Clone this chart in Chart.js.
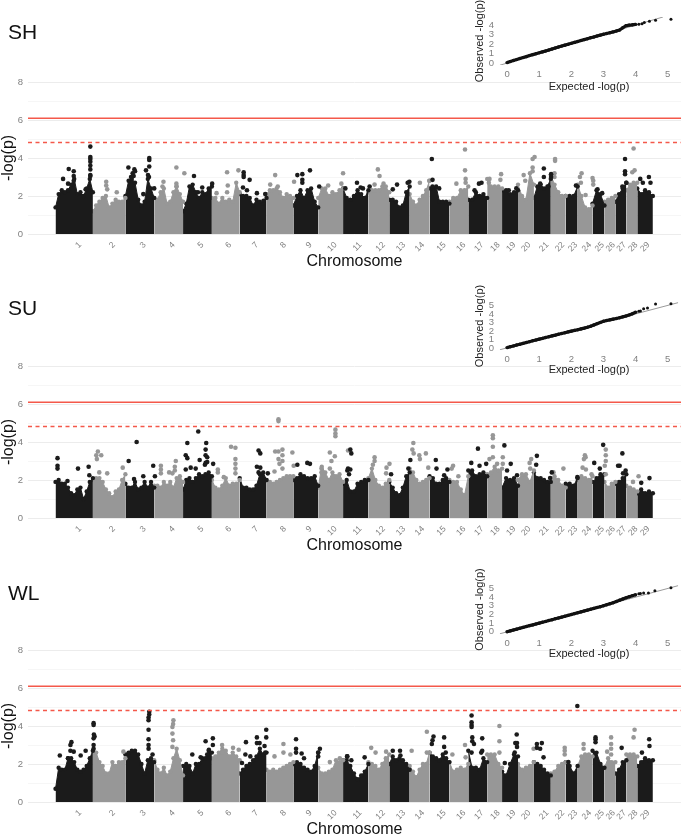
<!DOCTYPE html>
<html>
<head>
<meta charset="utf-8">
<title>Manhattan plots</title>
<script src="https://cdn.jsdelivr.net/npm/chart.js@4/dist/chart.umd.min.js"></script>
<style>
  body { margin: 0; background: #fff; width: 685px; height: 835px; overflow: hidden; position: relative; font-family: "Liberation Sans", Arial, sans-serif; }
  canvas { position: absolute; filter: blur(0.5px); }
  .tag { position: absolute; left: 8px; font-size: 21px; line-height: 24px; color: #111; filter: blur(0.3px); }
</style>
</head>
<body>
<div class="tag" style="top:20px">SH</div>
<div class="tag" style="top:296px">SU</div>
<div class="tag" style="top:581px">WL</div>
<canvas id="shMain"></canvas>
<canvas id="suMain"></canvas>
<canvas id="wlMain"></canvas>
<canvas id="shQQ"></canvas>
<canvas id="suQQ"></canvas>
<canvas id="wlQQ"></canvas>
<script>
// chromosome names, lengths and where each label sits on the genome axis
const chromNames = ['1','2','3','4','5','6','7','8','9','10','11','12','13','14','15','16','17','18','19','20','21','22','23','24','25','26','27','28','29'];
const chromLengths = [37.6,32.7,29,29,29,28,27,27,25,25,25.5,21,20.5,20,20,19,19,15,16,16,17,15,12,15,12,11,11,11,15.7];
const chromTicks = [22.3,56.3,87.3,116.3,145.3,173.3,200.3,228.3,254.3,279.3,304.3,327.8,348.3,367.3,389,409,427,443.3,459.3,474.3,492.3,508.3,521.3,535.3,548.3,559.3,570.3,582,594];
const yTicks = [0,1,2,3,4,5,6,7,8];
const qqTickValues = [0,1,2,3,4,5];

const solidThreshold = 6.09;
const dashedThreshold = 4.81;

// top of the solid mass of points along each chromosome
const shTops = [
  [1.4,2.1,2.3,2.2,2.3,2.6,2.9,2.1,2.2,2.0,2.4,2.9,2.2],
  [1.2,1.5,1.7,1.9,2.0,1.4,1.6,1.8,1.7,1.7,1.9],
  [2.0,2.8,2.9,2.7,1.8,1.5,1.7,2.9,2.4,1.9],
  [1.9,1.8,2.2,2.4,1.6,1.7,2.2,2.5,2.1,1.7],
  [1.2,1.6,2.5,2.6,2.2,1.9,2.2,2.1,2.4,2.5],
  [1.9,1.9,1.6,1.9,1.7,1.8,1.7,2.7,2.2],
  [2.1,2.0,2.0,1.9,1.5,1.8,1.7,1.6,1.9],
  [2.1,2.3,2.3,2.4,2.2,1.9,2.1,2.0,1.9],
  [1.5,2.0,2.3,1.9,2.3,2.4,1.7,1.4],
  [1.9,2.4,2.4,2.0,2.2,2.1,2.3,2.4],
  [2.4,1.9,1.8,2.0,2.3,2.1,1.9,2.3],
  [2.2,2.3,2.3,2.3,2.5,2.5,2.2],
  [1.8,1.8,1.7,1.4,1.5,2.2,2.5],
  [2.1,1.7,1.5,1.8,2.0,2.3,2.8],
  [2.4,2.4,2.5,1.7,1.7,1.7,1.6],
  [1.7,1.9,1.9,2.3,2.3,2.5],
  [1.8,1.8,2.2,2.0,2.1,1.9],
  [2.9,2.5,2.5,2.5,2.4],
  [2.3,2.3,2.1,2.2,2.3],
  [2.6,2.0,1.8,3.2,2.6],
  [1.9,2.5,2.6,2.4,2.5,2.9],
  [3.1,2.6,2.2,2.0,2.0],
  [2.0,2.0,2.0,2.5],
  [2.6,2.0,1.4,1.3,1.5],
  [1.6,2.3,2.1,1.5],
  [1.7,1.8,1.9,2.0],
  [1.7,2.1,2.4,2.7],
  [2.3,2.6,2.7,2.7],
  [2.4,2.1,2.3,2.2,2.0]
];
const suTops = [
  [1.9,2.0,1.8,1.8,1.6,1.3,1.2,1.5,1.6,1.0,1.4,1.9,2.1],
  [2.0,2.1,2.1,1.9,1.5,1.3,1.1,1.4,1.5,2.0,2.3],
  [1.8,1.6,1.6,1.9,1.5,1.6,1.9,1.6,1.9,1.6],
  [1.7,1.7,1.6,1.9,1.7,1.9,1.6,2.1,2.2,1.9],
  [1.5,2.0,2.1,1.9,2.1,2.3,2.2,2.3,2.4,2.2],
  [2.0,1.6,1.5,1.7,2.1,1.7,1.8,1.8,2.0],
  [2.1,1.6,1.6,1.5,1.5,1.7,2.3,2.4,2.0],
  [2.0,1.9,1.8,1.9,2.0,2.1,2.2,2.2,2.2],
  [2.0,2.1,2.3,2.2,2.1,2.1,2.2,1.7],
  [1.6,2.7,2.4,2.0,2.4,2.2,2.3,1.9],
  [1.8,2.0,1.4,1.4,1.8,1.9,2.0,2.0],
  [2.1,2.6,2.0,1.7,1.6,1.8,2.0],
  [1.9,1.6,1.3,1.2,1.6,2.2,2.4],
  [2.6,2.4,2.0,1.8,1.9,2.0,2.1],
  [2.2,2.1,1.8,1.8,2.0,2.1,1.9],
  [2.0,1.9,1.9,1.5,1.2,2.2],
  [2.5,2.5,2.2,2.3,2.4,2.2],
  [2.3,2.4,2.7,2.5,2.6],
  [1.6,2.1,2.0,2.1,1.7],
  [2.0,2.3,2.3,1.9,2.5],
  [2.4,2.1,2.1,2.0,1.9,1.9],
  [2.1,2.2,2.0,1.7,1.6],
  [1.8,1.8,1.7,2.1],
  [2.0,2.2,2.1,2.0,2.2],
  [1.9,2.1,2.3,2.3],
  [1.9,1.6,1.8,1.9],
  [1.8,1.9,2.1,2.3],
  [1.7,1.6,1.5,1.4],
  [1.3,1.5,1.3,1.4,1.3]
];
const wlTops = [
  [0.7,1.8,1.7,1.7,2.3,2.3,2.1,1.7,1.6,1.7,1.9,2.3,2.7],
  [2.7,2.6,2.1,1.9,1.5,1.5,2.1,1.9,2.1,2.1,2.3],
  [2.5,2.6,2.7,2.7,2.5,2.0,1.5,2.2,2.3,2.1],
  [2.2,1.7,1.5,1.8,1.4,1.6,2.3,2.8,2.2,1.4],
  [1.9,2.0,1.9,1.5,2.0,2.0,2.3,2.3,2.7,2.6],
  [2.3,2.4,2.6,2.8,2.7,2.4,2.6,2.4,2.2],
  [1.5,1.7,1.9,2.0,2.2,2.4,2.8,2.5,2.6],
  [1.7,1.6,1.7,1.6,1.7,1.8,1.9,2.0,2.1],
  [2.0,2.1,2.0,1.8,1.7,1.6,1.9,2.6],
  [1.8,1.5,1.5,1.6,1.7,2.2,2.1,2.2],
  [2.2,2.2,1.9,1.5,1.2,1.4,1.6,2.0],
  [2.1,2.0,1.9,1.7,2.0,2.3,2.5],
  [2.0,2.4,2.2,2.3,2.2,2.0,1.7],
  [1.9,1.6,1.3,1.7,2.0,2.0,2.6],
  [2.6,2.4,2.3,2.2,2.5,2.3,2.1],
  [2.1,1.6,1.7,1.8,1.7,2.0],
  [2.7,1.8,1.8,1.7,2.3,2.1],
  [2.5,2.5,2.5,2.0,1.8],
  [1.6,1.4,2.0,2.5,2.4],
  [2.0,1.7,1.8,1.9,2.1],
  [2.1,2.0,1.9,1.7,1.5,1.4],
  [1.5,1.6,1.9,2.0,2.1],
  [2.1,1.9,1.5,1.9],
  [1.9,2.4,2.5,2.5,2.4],
  [2.7,2.6,2.0,1.8],
  [1.8,2.3,2.1,2.1],
  [1.5,1.7,2.1,2.2],
  [2.5,2.5,2.5,2.4],
  [1.9,2.1,2.3,2.2,2.2]
];

// single SNPs standing above the mass, as [genome position, -log(p)]
const shBlackPeaks = [[35,4.6],[35,4.05],[35,3.95],[35,3.8],[35,3.6],[35,3.4],[35,3.1],[35,3.05],[13.3,3.42],[18.3,3.3],[18.3,3.05],[18.3,2.8],[7.6,2.9],[12.6,2.65],[30.3,2.35],
  [73.3,3.5],[79.3,3.4],[77.6,3.2],[80,3.3],[76,3],[78.6,3.05],[94.3,4],[94.3,3.9],[94.3,3.55],[91,3.35],[93,3.1],[94,3],[88.3,2.1],[99.3,2.4],
  [139.3,3.05],[147.6,2.45],[143.3,2.2],[157.6,2.65],[189.3,3.25],[189.3,3.1],[189.3,3],[195.3,2.85],[188.6,2.45],[192.6,2.3],[202.6,2.15],[211,2.1],[209.3,1.75],
  [243.3,3.1],[248.3,3.15],[256,3.35],[248.3,2.85],[248.3,2.7],[265.3,2.5],[303.3,2.7],[307,2.45],[309.3,2.4],[316,2.5],[291.6,2.4],
  [339.3,2.35],[343.6,2.6],[356,2.75],[354.3,2.7],[378.6,3.95],[379.3,2.85],[379.3,2.5],[386,2.4],[421.6,2.3],[426,2.65],[428.6,2.7],
  [463.6,2.4],[456,2.3],[491.3,3.45],[491.3,3],[498.6,3.15],[498.6,3],[487.6,2.65],[496,2.5],[523.6,2.55],[545.3,2.35],[550,2.15],
  [573,3.95],[573,3.3],[573,3.15],[574.3,2.7],[570.3,2.5],[588.3,2.9],[597,3],[598.6,2.7],[590.9,2.7]];
const shGreyPeaks = [[51,2.75],[51,2.55],[52,2.35],[61.6,2.2],[121.6,3.5],[129.6,3.2],[108.6,2.75],[107.6,2.5],[121.6,2.65],[121.6,2.5],
  [172.6,3.25],[184,3.35],[173.3,2.55],[172.6,2.2],[162,2.15],[221,3.1],[216,2.6],[223.6,2.5],[240,2.75],[289.3,3.2],[287.6,2.65],[274.3,2.55],
  [324.3,3.4],[326,3.05],[321,2.6],[330,2.65],[366.6,2.7],[376,2.8],[412,4.45],[412,3.35],[412.6,2.9],[412.6,2.7],[403.3,2.65],
  [448.3,3.15],[447.6,2.85],[436.6,2.9],[436,2.7],[482,4.05],[480,3.95],[480,3.5],[480,3.3],[471,3.1],[472.6,2.8],
  [502.6,3.95],[502.6,3.85],[502,3.2],[502,3],[529.3,3.2],[527.6,3],[528.6,2.7],[533.3,2.05],[540.3,2.95],[541,2.8],[541,2.6],
  [581.6,4.5],[582.6,3.35],[580.3,3.25]];

const suBlackPeaks = [[2,3.15],[2,2.75],[2,2.6],[22.6,2.6],[12,1.95],[33.3,2.7],[34,2.25],[73.6,3],[81.6,4],[98.3,2.75],[100,2.2],[88.3,2.2],[79,2.05],
  [132.6,3.95],[131,3.3],[132.6,3.15],[136,2.65],[141,2.6],[131,2.55],[143.6,4.55],[151.6,3.95],[151,3.6],[151,3.3],[152.6,3.2],[145,3.05],[151,2.9],[152.6,2.95],[150.3,2.8],[158.6,2.85],
  [204.3,3.55],[206,3.4],[202.6,2.7],[206,2.65],[204.3,2.4],[213.6,2.35],[243.3,2.8],[253.3,2.9],[256,2.85],
  [296.6,3.6],[297.6,3.4],[294.3,2.6],[296.6,2.55],[293.6,2.5],[295.3,2.3],[337.6,2.3],[357,3.05],[355,2.6],
  [382.6,3.05],[383.3,2.6],[394.3,2.55],[391,2.25],[425,3.65],[418.3,2.9],[433.3,2.85],[426.6,2.75],[418.3,2.4],
  [451.6,3.82],[458,2.85],[454.3,2.5],[464.3,2.25],[484.3,3.27],[483.6,2.8],[499.3,2.4],[497.6,2.1],[525,2.15],
  [542,2.9],[547.6,2.6],[551,3.85],[570.3,3.4],[567.6,2.75],[566,2.75],[573.6,2.5],[571,2.35],[597.6,2.1],[589.3,1.85]];
const suGreyPeaks = [[42.6,3.5],[46,3.3],[41,3.3],[41.6,3.1],[44,2.4],[52,2.35],[67.6,2.65],[106,2.75],[106,2.55],[106,2.35],[121,3],[120,2.7],[120,2.5],[114.3,2.4],[117.6,2.35],
  [176.6,3.75],[181,3.7],[181,3.1],[181,2.85],[181,2.6],[181,2.35],[163.3,2.55],[163.3,2.4],[169.3,2.15],
  [224.3,5.2],[224.3,5.1],[221,3.5],[228.3,3.6],[224.3,3.5],[228.3,3.3],[224.3,3.1],[228.3,3],[225.3,2.85],[228.3,2.6],[220.3,2.45],[238.3,3.45],[239.6,2.75],
  [281.6,4.65],[281.6,4.45],[281.6,4.3],[276,3.45],[281,3.25],[277.6,3],[267.6,2.6],[267.6,2.4],[276,2.6],[294.3,3.55],
  [321,3.2],[321,3],[319.3,2.8],[336,2.85],[333,2.65],[332.6,2.35],[360,3.95],[359,3.6],[360.3,3.4],[366,3.3],[372.6,3.4],[366.6,3.1],[375,2.65],
  [400,2.75],[398.6,2.6],[405.3,2.2],[440,4.35],[440,4.2],[440,3.75],[450,3.2],[440,3.2],[436.6,3.1],[444.3,2.85],[450,2.85],
  [478.6,3.1],[477,2.9],[477.6,2.6],[511,2.6],[501,2.4],[532.6,3.3],[531.6,3.1],[533.3,3.2],[530.3,2.65],[533.6,2.55],[539.3,2.3],
  [553.6,3.6],[553.6,3.3],[553.6,3],[552.6,2.75],[553.6,2.3],[586.6,2.2],[581,1.9]];

const wlBlackPeaks = [[38.3,4.15],[38.3,4.05],[38.6,3.55],[39.3,3.45],[38.3,3.35],[38.3,3],[38.3,2.8],[16,3.15],[15,3],[15,2.7],[18.3,2.65],[30.3,2.7],[25.3,2.45],[4.3,2.45],[12.6,2.3],
  [94.3,4.75],[94.3,4.6],[93.6,4.45],[93.6,4.3],[93.6,3.8],[93.6,3.3],[93.6,3],[93.6,2.8],[97.6,2.5],
  [158.3,3.35],[151,3.2],[158.3,3],[154.3,2.75],[152.6,2.5],[146,2.35],[137.6,2.5],
  [191.6,3.15],[191,2.5],[212,3.8],[212,3.4],[202.6,3.4],[202.6,3.1],[205.3,3.1],[210.3,2.95],[211,2.6],[196,2.4],[187.6,2.05],
  [242,3.3],[242,2.8],[242,2.6],[247.6,2.55],[250,2.3],[266,2.8],[264.3,2.6],[264.3,2.4],[293.3,2.4],[293.6,2.4],[297.6,2.2],[311,2.35],
  [339.3,2.7],[346.6,2.7],[347,2.45],[380.3,3.45],[379.3,3.25],[378.6,3.05],[391,3.4],[391,2.9],[392.6,2.6],
  [418.6,4.55],[418.6,4.2],[418.6,4.05],[418.6,3.95],[419.3,3.4],[419.3,3.2],[421,3.05],[418.6,2.6],[429.3,3.35],[429.3,2.7],[428.3,2.6],
  [464,3.55],[462.6,3.1],[464.3,3.1],[464.3,2.9],[452,2.05],[462,2.6],[484.3,3.05],[489.3,3.1],[484.3,2.85],[487.6,2.8],[491,2.35],
  [525,5.05],[516,2.1],[543.3,3.4],[543.3,3.3],[543.3,3.15],[569.6,2.85],[597.3,3.3],[597.6,2.95],[590,2.6]];
const wlGreyPeaks = [[118.6,4.3],[118.3,4.1],[117.6,3.95],[117.6,3.6],[118.3,3.25],[117.6,2.9],[68.3,2.65],[167.6,3],[178.6,2.85],[184.3,2.75],[167.6,2.6],
  [229.3,3.05],[220.3,2.4],[229.3,2.6],[236.3,2.5],[276,2.1],[286,2.3],[317.6,2.85],[322,2.6],[332.6,2.65],[358.3,2.7],[373.6,3.7],[373.6,2.6],
  [412,3],[412.6,2.35],[399.3,2.5],[446.6,4],[446.6,3.2],[446.6,2.6],[481,2.8],[512.3,2.85],[512.3,2.7],[512.3,2.5],[531.3,3.05],[531.3,2.8],
  [559,3.4],[559,3.05],[559,2.8],[559,2.5],[555,2.65],[582.6,3.8],[581.6,3.4]];

// QQ insets
const qqExpected = [0,0.1,0.2,0.3,0.4,0.5,0.6,0.7,0.8,0.9,1,1.1,1.2,1.3,1.4,1.5,1.6,1.7,1.8,1.9,2,2.1,2.2,2.3,2.4,2.5,2.6,2.7,2.8,2.9,3,3.1,3.2,3.3,3.4,3.5,3.6,3.7,3.8,3.9,4];
const shObserved = [0.05,0.16,0.27,0.37,0.48,0.58,0.68,0.79,0.89,0.99,1.08,1.18,1.28,1.38,1.49,1.59,1.69,1.79,1.89,1.98,2.08,2.18,2.28,2.37,2.47,2.56,2.66,2.75,2.85,2.94,3.03,3.12,3.2,3.28,3.37,3.47,3.72,3.93,4,4.03,4.07];
const suObserved = [0.03,0.13,0.23,0.33,0.43,0.53,0.63,0.73,0.83,0.93,1.03,1.12,1.22,1.31,1.41,1.5,1.6,1.69,1.78,1.88,1.97,2.06,2.14,2.23,2.32,2.42,2.55,2.7,2.85,3,3.13,3.22,3.3,3.38,3.46,3.55,3.65,3.75,3.88,4.02,4.2];
const wlObserved = [0.01,0.11,0.21,0.31,0.41,0.51,0.61,0.71,0.8,0.9,1,1.1,1.2,1.3,1.4,1.5,1.6,1.7,1.8,1.9,2,2.1,2.2,2.3,2.4,2.5,2.6,2.7,2.8,2.9,3,3.12,3.24,3.36,3.5,3.65,3.78,3.92,4.05,4.17,4.27];
const shTail = [[4.1,4.1],[4.2,4.15],[4.27,4.28],[4.43,4.41],[4.62,4.5],[5.1,4.62]];
const suTail = [[4.1,4.3],[4.15,4.35],[4.25,4.6],[4.37,4.68],[4.62,5.15],[5.1,5.2]];
const wlTail = [[4.1,4.38],[4.15,4.42],[4.25,4.47],[4.4,4.47],[4.6,4.73],[5.1,5.08]];

const BLACK = '#1b1b1b';
const GREY = '#979797';
const RED = '#f4584a';

// cumulative start of each chromosome
const chromStarts = [];
chromLengths.reduce((sum, len, i) => { chromStarts[i] = sum; return sum + len; }, 0);

function manhattan(id, top, tops, blackPeaks, greyPeaks) {
  const canvas = document.getElementById(id);
  canvas.width = 685; canvas.height = 197;
  canvas.style.left = '0px'; canvas.style.top = top + 'px';

  const massSets = tops.map((heights, c) => ({
    data: heights.map((y, i) => ({ x: chromStarts[c] + chromLengths[c] * i / (heights.length - 1), y: y })),
    showLine: true, fill: 'origin', tension: 0,
    backgroundColor: c % 2 ? GREY : BLACK, borderColor: c % 2 ? GREY : BLACK, borderWidth: 1,
    pointRadius: 2.2, pointBackgroundColor: c % 2 ? GREY : BLACK, pointBorderWidth: 0, clip: false
  }));
  const peakSet = (list, color) => ({
    data: list.map(p => ({ x: p[0], y: p[1] })), showLine: false,
    pointRadius: 2.3, pointBackgroundColor: color, pointBorderWidth: 0, clip: false
  });
  const lineSet = (value, dash, width) => ({
    data: [{ x: -27.7, y: value }, { x: 629.3, y: value }], showLine: true,
    borderColor: RED, borderWidth: width, borderDash: dash, pointRadius: 0
  });

  return new Chart(canvas, {
    type: 'scatter',
    data: { datasets: [lineSet(solidThreshold, [], 1.6), lineSet(dashedThreshold, [4, 3.5], 1.5), peakSet(blackPeaks, BLACK), peakSet(greyPeaks, GREY)].concat(massSets) },
    options: {
      responsive: false, animation: false, events: [],
      layout: { padding: { top: 12, left: 0, right: 0, bottom: 0 } },
      plugins: { legend: { display: false }, tooltip: { enabled: false } },
      scales: {
        x: {
          type: 'linear', min: -27.7, max: 629.3,
          afterBuildTicks: axis => { axis.ticks = chromTicks.map(v => ({ value: v })); },
          afterFit: axis => { axis.height = 33; },
          grid: { display: false, drawTicks: false }, border: { display: false },
          ticks: { autoSkip: false, minRotation: 45, maxRotation: 45, padding: 6, labelOffset: 2.5, color: '#808080',
            font: { family: 'Liberation Sans', size: 8.5 }, callback: (v, i) => chromNames[i] },
          title: { display: true, text: 'Chromosome', color: '#111', padding: 0,
            font: { family: 'Liberation Sans', size: 16, lineHeight: 0.7 } }
        },
        y: {
          min: 0, max: 8,
          afterBuildTicks: axis => { axis.ticks = yTicks.map(v => ({ value: v })); },
          afterFit: axis => { axis.width = 28; },
          grid: { drawTicks: false, lineWidth: 1, color: c => (c.tick && c.tick.value % 2 ? '#f6f6f6' : '#ececec') },
          border: { display: false },
          ticks: { autoSkip: false, padding: 5, color: '#808080', font: { family: 'Liberation Sans', size: 9.5 },
            callback: v => (v % 2 === 0 ? v : '') },
          title: { display: true, text: '-log(p)', color: '#111', padding: 0,
            font: { family: 'Liberation Sans', size: 16, lineHeight: 1.1 } }
        }
      }
    }
  });
}

function qqPlot(id, top, observed, tail, yRange, lineEnd, areaTop, areaBottom, titlePad) {
  const canvas = document.getElementById(id);
  canvas.width = 220; canvas.height = 100;
  canvas.style.left = '465px'; canvas.style.top = top + 'px';

  return new Chart(canvas, {
    type: 'scatter',
    data: { datasets: [
      { data: tail.map(p => ({ x: p[0], y: p[1] })), pointRadius: 1.5, pointBackgroundColor: '#111', pointBorderWidth: 0, clip: false },
      { data: qqExpected.map((x, i) => ({ x: x, y: observed[i] })), showLine: true, borderColor: '#111', borderWidth: 3.2, tension: 0,
        pointRadius: 1.7, pointBackgroundColor: '#111', pointBorderWidth: 0, clip: false },
      { data: [{ x: -0.22, y: -0.22 }, { x: lineEnd, y: lineEnd }], showLine: true, borderColor: '#9a9a9a', borderWidth: 1, pointRadius: 0 }
    ] },
    options: {
      responsive: false, animation: false, events: [],
      layout: { padding: { top: areaTop, right: 6, left: 0, bottom: 0 } },
      plugins: { legend: { display: false }, tooltip: { enabled: false } },
      scales: {
        x: {
          type: 'linear', min: -0.25, max: 5.35,
          afterBuildTicks: axis => { axis.ticks = qqTickValues.map(v => ({ value: v })); },
          afterFit: axis => { axis.height = 100 - areaBottom; },
          grid: { display: false, drawTicks: false }, border: { display: false },
          ticks: { autoSkip: false, maxRotation: 0, padding: 4, color: '#808080', font: { family: 'Liberation Sans', size: 9.5 } },
          title: { display: true, text: 'Expected -log(p)', color: '#222', padding: { top: 0, bottom: titlePad },
            font: { family: 'Liberation Sans', size: 11, lineHeight: 1 } }
        },
        y: {
          min: yRange[0], max: yRange[1],
          afterBuildTicks: axis => { axis.ticks = qqTickValues.filter(v => v <= yRange[1]).map(v => ({ value: v })); },
          afterFit: axis => { axis.width = 34; },
          grid: { display: false, drawTicks: false }, border: { display: false },
          ticks: { autoSkip: false, padding: 5, color: '#808080', font: { family: 'Liberation Sans', size: 9.5 } },
          title: { display: true, text: 'Observed -log(p)', color: '#222', padding: { top: 9, bottom: 0 },
            font: { family: 'Liberation Sans', size: 11, lineHeight: 1 } }
        }
      }
    }
  });
}

manhattan('shMain', 70, shTops, shBlackPeaks, shGreyPeaks);
manhattan('suMain', 354, suTops, suBlackPeaks, suGreyPeaks);
manhattan('wlMain', 638, wlTops, wlBlackPeaks, wlGreyPeaks);
qqPlot('shQQ', 0, shObserved, shTail, [-0.2, 4.85], 4.85, 17, 65, 7.5);
qqPlot('suQQ', 280, suObserved, suTail, [-0.25, 5.4], 5.32, 22, 70, 4.5);
qqPlot('wlQQ', 565, wlObserved, wlTail, [-0.25, 5.4], 5.32, 20, 69, 5.5);
</script>
</body>
</html>
